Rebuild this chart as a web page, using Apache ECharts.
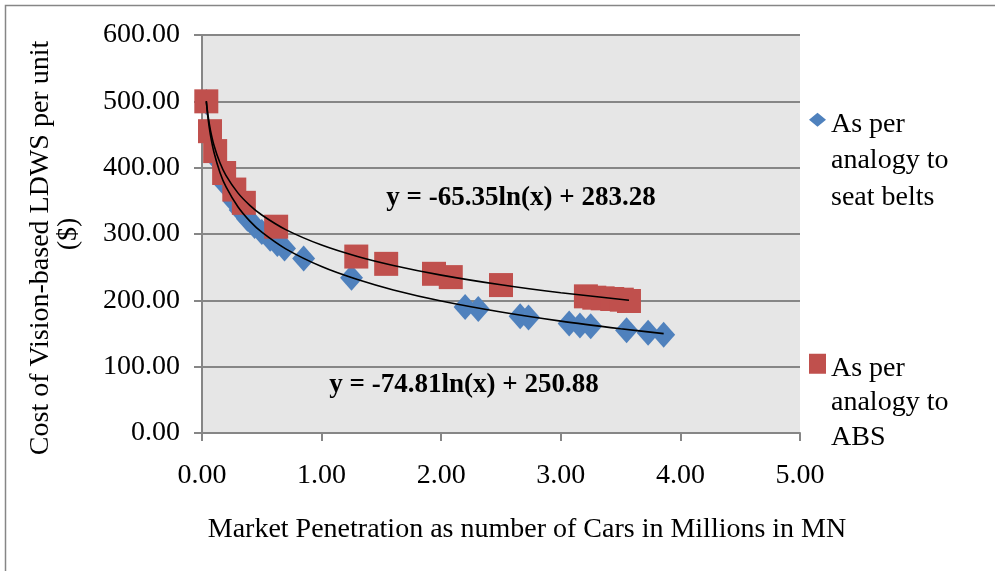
<!DOCTYPE html>
<html><head><meta charset="utf-8">
<script src="https://cdn.jsdelivr.net/npm/echarts@6/dist/echarts.min.js"></script>
<style>html,body{margin:0;padding:0;background:#fff}#c{width:995px;height:571px}</style>
</head><body><div id="c"></div>
<script>
// ---- data ----
const xTicks = [0, 1, 2, 3, 4, 5];
const yTicks = [0, 100, 200, 300, 400, 500, 600];
const seatName = 'As per analogy to seat belts';
const absName = 'As per analogy to ABS';
const seatX = [0.036, 0.067, 0.11, 0.185, 0.27, 0.32, 0.38, 0.44, 0.50, 0.57, 0.63, 0.69, 0.85, 1.25, 2.20, 2.31, 2.66, 2.73, 3.07, 3.16, 3.25, 3.55, 3.73, 3.86];
const seatY = [499, 452, 416, 377, 349, 336, 323, 312, 303, 293, 285, 278, 263, 234, 190, 187, 176, 174, 165, 162, 161, 155, 151, 148];
const absX = [0.036, 0.067, 0.11, 0.185, 0.27, 0.35, 0.62, 1.29, 1.54, 1.94, 2.08, 2.50, 3.21, 3.28, 3.35, 3.43, 3.51, 3.57];
const absY = [500, 455, 425, 392, 367, 347, 311, 266, 255, 240, 235, 223, 206, 204, 203, 202, 201, 199];
// trendlines (as drawn in the chart)
const trendSeatX = [0.036, 0.05, 0.07, 0.1, 0.15, 0.2, 0.3, 0.4, 0.5, 0.7, 1.0, 1.3, 1.6, 2.0, 2.5, 3.0, 3.5, 3.86];
const trendSeatY = [499.6, 475.0, 449.8, 423.2, 392.8, 371.3, 341.0, 319.4, 302.7, 277.6, 250.9, 231.3, 215.7, 199.0, 182.4, 168.7, 157.2, 149.8];
const trendAbsX = [0.036, 0.05, 0.07, 0.1, 0.15, 0.2, 0.3, 0.4, 0.5, 0.7, 1.0, 1.3, 1.6, 2.0, 2.5, 3.0, 3.57];
const trendAbsY = [500.5, 479.1, 457.0, 433.8, 407.3, 388.5, 362.0, 343.2, 328.6, 306.6, 283.3, 266.1, 252.6, 238.0, 223.4, 211.5, 200.2];
const absEq = 'y = -65.35ln(x) + 283.28';
const seatEq = 'y = -74.81ln(x) + 250.88';
const xTitle = 'Market Penetration as number of Cars in Millions in MN';
const yTitle = 'Cost of Vision-based LDWS per unit\n    ($)';
const seatLegendText = 'As per\nanalogy to\nseat belts';
const absLegendText = 'As per\nanalogy to\nABS';

const zip = (a, b) => a.map((v, i) => [v, b[i]]);
const FONT = "'Liberation Serif', 'DejaVu Serif', serif";
const GREY = '#868686';

const chart = echarts.init(document.getElementById('c'));
chart.setOption({
  animation: false,
  backgroundColor: '#fff',
  graphic: [
    { type: 'rect', silent: true, z: -10, shape: { x: 5.5, y: 5.5, width: 1100, height: 700 },
      style: { fill: 'none', stroke: GREY, lineWidth: 1.5 } },
    { type: 'text', silent: true, z: 100, style: { text: absEq, x: 521, y: 198, align: 'center', verticalAlign: 'middle',
      fontFamily: FONT, fontSize: 27, fontWeight: 'bold', fill: '#000' } },
    { type: 'text', silent: true, z: 100, style: { text: seatEq, x: 464, y: 385, align: 'center', verticalAlign: 'middle',
      fontFamily: FONT, fontSize: 27, fontWeight: 'bold', fill: '#000' } }
  ],
  grid: { left: 202, right: 195, top: 35, bottom: 138, show: true, backgroundColor: '#e6e6e6', borderWidth: 0,
    containLabel: false, outerBoundsMode: 'none' },
  legend: [
    { data: [seatName], orient: 'vertical', left: 809, top: 106, padding: 0, itemWidth: 17, itemHeight: 96,
      icon: 'path://M8.5,0L17,7L8.5,14L0,7Z M0,96L17,96', itemStyle: { borderWidth: 0 },
      formatter: () => seatLegendText,
      textStyle: { fontFamily: FONT, fontSize: 28, color: '#000', lineHeight: 36.5 } },
    { data: [absName], orient: 'vertical', left: 809, top: 351, padding: 0, itemWidth: 17, itemHeight: 98,
      icon: 'path://M0,0L17,0L17,20L0,20Z M0,98L17,98', itemStyle: { borderWidth: 0 },
      formatter: () => absLegendText,
      textStyle: { fontFamily: FONT, fontSize: 28, color: '#000', lineHeight: 34.5 } }
  ],
  xAxis: {
    type: 'value', min: xTicks[0], max: xTicks[xTicks.length - 1], interval: 1,
    name: xTitle, nameLocation: 'middle', nameGap: 83,
    nameTextStyle: { fontFamily: FONT, fontSize: 28, color: '#000', padding: [0, 0, 0, 52] },
    axisLine: { show: true, lineStyle: { color: GREY, width: 2 } },
    axisTick: { show: true, length: 8, lineStyle: { color: GREY, width: 2 } },
    axisLabel: { formatter: v => v.toFixed(2), fontFamily: FONT, fontSize: 28, color: '#000', margin: 29 },
    splitLine: { show: false }
  },
  yAxis: {
    type: 'value', min: yTicks[0], max: yTicks[yTicks.length - 1], interval: 100,
    name: yTitle, nameLocation: 'middle', nameGap: 119, nameRotate: 90,
    nameTextStyle: { fontFamily: FONT, fontSize: 28, color: '#000', lineHeight: 28, align: 'center', padding: [0, 28, 0, 0] },
    axisLine: { show: true, lineStyle: { color: GREY, width: 2 } },
    axisTick: { show: true, length: 8, lineStyle: { color: GREY, width: 2 } },
    axisLabel: { formatter: v => v.toFixed(2), fontFamily: FONT, fontSize: 28, color: '#000', margin: 22 },
    splitLine: { show: true, lineStyle: { color: GREY, width: 2 } }
  },
  series: [
    { name: seatName, type: 'scatter', symbol: 'diamond', symbolSize: [23, 26], z: 2,
      itemStyle: { color: '#4F81BD', opacity: 1 }, data: zip(seatX, seatY) },
    { name: absName, type: 'scatter', symbol: 'rect', symbolSize: 24, z: 3,
      itemStyle: { color: '#C0504D', opacity: 1 }, data: zip(absX, absY) },
    { name: 'trend-abs', type: 'line', smooth: 0.3, showSymbol: false, silent: true, z: 5,
      lineStyle: { color: '#000', width: 1.6 }, data: zip(trendAbsX, trendAbsY) },
    { name: 'trend-seat', type: 'line', smooth: 0.3, showSymbol: false, silent: true, z: 5,
      lineStyle: { color: '#000', width: 1.6 }, data: zip(trendSeatX, trendSeatY) }
  ]
});
</script>
</body></html>
